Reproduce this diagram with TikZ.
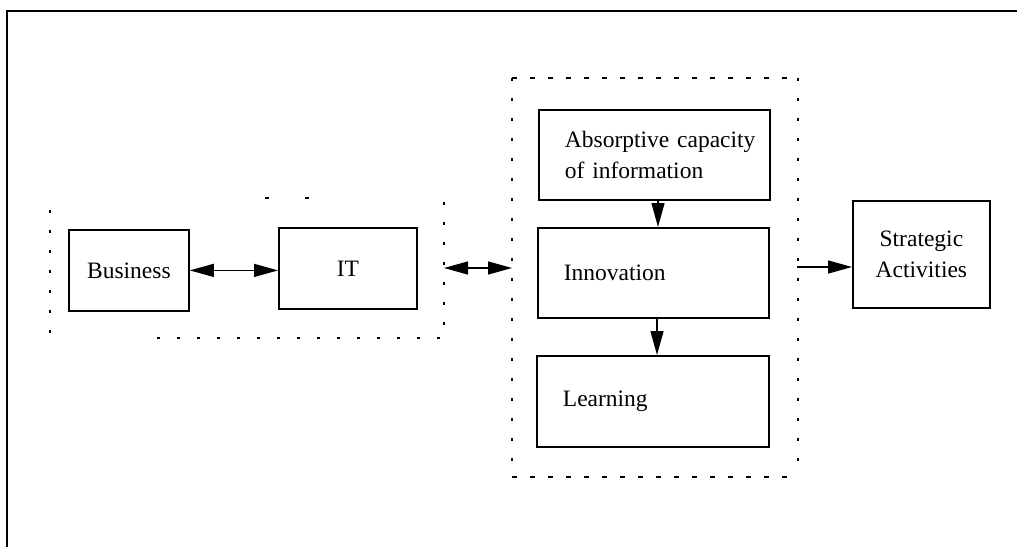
\documentclass[tikz,border=0pt]{standalone}
\usepackage{fontspec}
\setmainfont{Liberation Serif}
\usetikzlibrary{arrows.meta}
\begin{document}
\begin{tikzpicture}[x=1pt,y=-1pt,
  every node/.style={font=\fontsize{23.5}{31}\selectfont},
  box/.style={draw,line width=1.8pt,rectangle,anchor=north west,inner sep=0pt},
  lbox/.style={box,align=left,inner xsep=26pt},
  dotline/.style={line width=2.2pt,dash pattern=on 3pt off 17pt},
  dashline/.style={line width=2.2pt,dash pattern=on 5pt off 13pt},
  link/.style={line width=1.4pt,-{Triangle[length=24pt,width=13pt]}},
  dlink/.style={line width=1.4pt,{Triangle[length=24pt,width=13pt]}-{Triangle[length=24pt,width=13pt]}}]
\useasboundingbox (0,0) rectangle (1017,547);
% outer frame (top and left sides)
\draw[line width=2pt] (7,547) -- (7,11) -- (1017,11);

% Business / IT group
\node[box,minimum width=120pt,minimum height=81pt] (bus) at (68,229) {Business};
\node[box,minimum width=138pt,minimum height=81pt] (it) at (278,227) {IT};
\draw[dlink] (bus.east) -- (it.west |- bus.east);
\draw[dotline] (50,210) -- (50,335);
\draw[dotline] (157,338) -- (444,338);
\draw[dotline] (444,202) -- (444,338);
\draw[line width=2pt] (265,198) -- (269,198) (305,198) -- (309,198);
\coordinate (gl) at (444,268);

% absorptive capacity / innovation / learning group
\node[lbox,text width=179pt,minimum height=90pt] (abs) at (538,109) {\mbox{Absorptive capacity}\\\mbox{of information}};
\node[lbox,text width=179pt,minimum height=90pt] (inn) at (537,227) {Innovation};
\node[lbox,text width=180pt,minimum height=91pt] (lea) at (536,355) {Learning};
\draw[dashline] (512,78) -- (798,78);
\draw[dashline] (512,477) -- (798,477);
\draw[dotline] (512,78) -- (512,477);
\draw[dotline] (798,78) -- (798,477);
\coordinate (gr) at (512,268);
\coordinate (go) at (797,267);

\draw[dlink] (gl) -- (gr);
\draw[link] (abs.south -| 658,0) -- (inn.north -| 658,0);
\draw[link] (inn.south -| 657,0) -- (lea.north -| 657,0);

% strategic activities
\node[box,align=center,minimum width=137pt,minimum height=107pt] (str) at (852,200) {Strategic\\Activities};
\draw[link] (go) -- (str.west |- go);
\end{tikzpicture}
\end{document}
